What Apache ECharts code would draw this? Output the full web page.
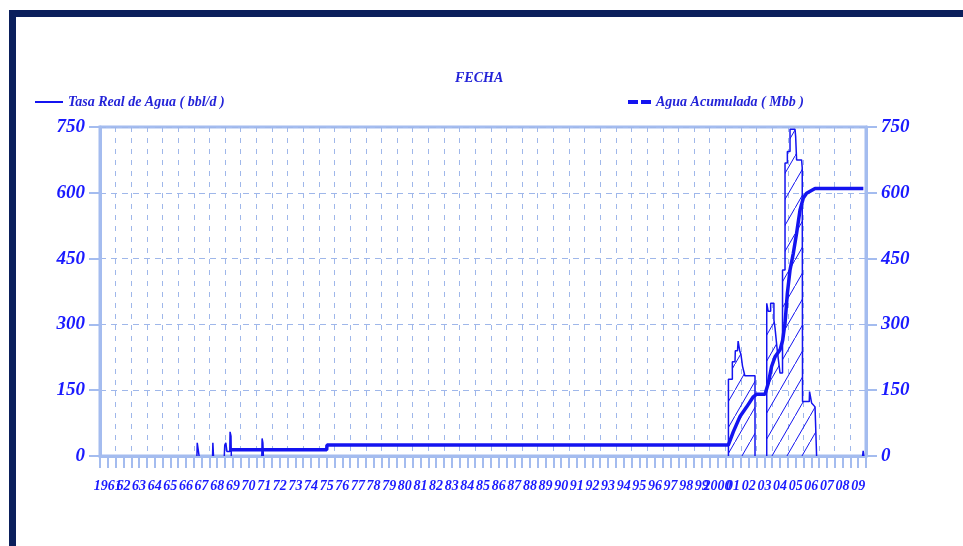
<!DOCTYPE html>
<html>
<head>
<meta charset="utf-8">
<script src="https://cdn.jsdelivr.net/npm/echarts@6/dist/echarts.min.js"></script>
<style>
  html, body { margin: 0; padding: 0; background: #ffffff; }
  #chart { width: 963px; height: 546px; }
</style>
</head>
<body>
<div id="chart"></div>
<script>
// Year labels, one per yearly band (1961 .. 2009)
const xTickLabels = ['1961','62','63','64','65','66','67','68','69','70',
  '71','72','73','74','75','76','77','78','79','80',
  '81','82','83','84','85','86','87','88','89','90',
  '91','92','93','94','95','96','97','98','99','2000',
  '01','02','03','04','05','06','07','08','09'];
const yearMin = 1961;
const yearMax = 2010;
const yTicks = [0, 150, 300, 450, 600, 750];

const rateName = 'Tasa Real de Agua ( bbl/d )';
const cumName = 'Agua Acumulada ( Mbb )';

// Water rate (bbl/d): [decimal year, value]; null separates producing periods
const rateData = [
  [1967.20, 0], [1967.22, 30], [1967.32, 30], [1967.34, 0], null,
  [1968.20, 0], [1968.22, 30], [1968.26, 0], null,
  [1968.95, 0], [1968.98, 25], [1969.05, 30], [1969.12, 10], [1969.30, 10],
  [1969.32, 55], [1969.38, 45], [1969.40, 0], null,
  [1971.35, 0], [1971.37, 40], [1971.42, 30], [1971.45, 0], null,
  [2001.20, 0], [2001.20, 175], [2001.45, 175], [2001.45, 215], [2001.62, 215],
  [2001.64, 240], [2001.78, 240], [2001.82, 262], [2001.92, 240], [2002.00, 232],
  [2002.10, 205], [2002.25, 183], [2002.90, 183], [2002.90, 0], null,
  [2003.65, 0], [2003.65, 348], [2003.74, 348], [2003.74, 330], [2003.90, 330],
  [2003.90, 348], [2004.11, 348], [2004.11, 310], [2004.18, 292], [2004.32, 242],
  [2004.50, 189], [2004.66, 189], [2004.66, 424], [2004.82, 424], [2004.82, 668],
  [2004.97, 668], [2004.97, 694], [2005.14, 694], [2005.14, 745], [2005.46, 745],
  [2005.50, 728], [2005.56, 675], [2005.88, 675], [2005.92, 657], [2005.94, 657],
  [2005.94, 124], [2006.37, 124], [2006.39, 147], [2006.45, 147], [2006.52, 121],
  [2006.74, 112], [2006.84, 112], [2006.84, 0], null,
  [2009.78, 0], [2009.82, 12], [2009.86, 0]
];

// Cumulative water (Mbb): [decimal year, value]
const cumData = [
  [1969.35, 14], [1975.50, 14], [1975.52, 25], [2001.19, 25], [2001.30, 35],
  [2001.51, 55], [2001.94, 90], [2002.37, 112], [2002.79, 135], [2003.01, 141],
  [2003.54, 141], [2003.75, 166], [2003.96, 204], [2004.18, 226], [2004.50, 242],
  [2004.67, 264], [2004.82, 303], [2004.97, 371], [2005.14, 424], [2005.35, 462],
  [2005.56, 508], [2005.78, 561], [2005.99, 588], [2006.20, 599], [2006.74, 610],
  [2009.83, 610]
];

const lineBlue = '#1414f0';
const textBlue = '#1a1aff';
const axisBlue = '#a4bcef';
const gridBlue = '#9fb7ea';
const labelFont = 'Liberation Serif';

// Diagonal hatch used under the rate curve
function hatchPattern() {
  const w = 15, h = 26;
  const c = document.createElement('canvas');
  c.width = w; c.height = h;
  const ctx = c.getContext('2d');
  ctx.strokeStyle = lineBlue;
  ctx.lineWidth = 1;
  ctx.beginPath();
  ctx.moveTo(0, h);
  ctx.lineTo(w, 0);
  ctx.stroke();
  return c;
}

function xLabel(v) {
  const k = v - yearMin - 0.5;
  const r = Math.round(k);
  if (Math.abs(k - r) > 1e-6) return '';
  return xTickLabels[r] || '';
}

const yAxisCommon = {
  type: 'value',
  min: yTicks[0],
  max: yTicks[yTicks.length - 1],
  interval: yTicks[1] - yTicks[0],
  axisLine: { show: true, lineStyle: { color: axisBlue, width: 3 } },
  axisTick: { show: true, length: 11, lineStyle: { color: axisBlue, width: 2 } },
  axisLabel: {
    color: textBlue, fontFamily: labelFont, fontStyle: 'italic', fontWeight: 'bold',
    fontSize: 19, margin: 15
  }
};

const legendText = { color: '#2323d8', fontFamily: labelFont, fontStyle: 'italic', fontWeight: 'bold', fontSize: 14 };

const chart = echarts.init(document.getElementById('chart'), null, { renderer: 'canvas' });
chart.setOption({
  animation: false,
  backgroundColor: '#ffffff',
  graphic: [
    { type: 'rect', shape: { x: 9, y: 10, width: 954, height: 7 }, style: { fill: '#0b1f5c' }, z: 100 },
    { type: 'rect', shape: { x: 9, y: 10, width: 7, height: 536 }, style: { fill: '#0b1f5c' }, z: 100 }
  ],
  title: {
    text: 'FECHA',
    left: 450, top: 66,
    textStyle: legendText
  },
  legend: [
    {
      data: [{ name: rateName, icon: 'path://M0,0H28V2H0Z' }],
      left: 30, top: 90,
      itemWidth: 28, itemHeight: 2, itemGap: 3,
      textStyle: legendText
    },
    {
      data: [{ name: cumName, icon: 'path://M0,0H10V4H0Z M13,0H23V4H13Z' }],
      left: 623, top: 90,
      itemWidth: 23, itemHeight: 4, itemGap: 3,
      textStyle: legendText
    }
  ],
  grid: {
    left: 100, right: 97, top: 127, bottom: 90,
    show: true, borderColor: axisBlue, borderWidth: 3, backgroundColor: 'transparent'
  },
  xAxis: [
    {
      type: 'value', min: yearMin, max: yearMax, interval: 0.5,
      axisLine: { show: true, lineStyle: { color: axisBlue, width: 3 } },
      axisTick: { show: true, length: 12, lineStyle: { color: axisBlue, width: 2 } },
      splitLine: { show: false },
      axisLabel: {
        formatter: xLabel, color: textBlue, fontFamily: labelFont, fontStyle: 'italic',
        fontWeight: 'bold', fontSize: 14, margin: 23, showMinLabel: true, showMaxLabel: true
      }
    },
    {
      type: 'value', min: yearMin, max: yearMax, interval: 1, position: 'bottom',
      axisLine: { show: false }, axisTick: { show: false }, axisLabel: { show: false },
      splitLine: { show: true, lineStyle: { color: gridBlue, width: 1, type: [5, 6] } }
    }
  ],
  yAxis: [
    Object.assign({}, yAxisCommon, {
      position: 'left',
      splitLine: { show: true, lineStyle: { color: gridBlue, width: 1, type: [6, 5] } }
    }),
    Object.assign({}, yAxisCommon, {
      position: 'right',
      splitLine: { show: false }
    })
  ],
  series: [
    {
      name: rateName, type: 'line', xAxisIndex: 0, yAxisIndex: 0,
      data: rateData, showSymbol: false, symbol: 'none', connectNulls: false,
      lineStyle: { color: lineBlue, width: 1.5 },
      itemStyle: { color: lineBlue },
      areaStyle: { color: { image: hatchPattern(), repeat: 'repeat' }, opacity: 1 },
      z: 3
    },
    {
      name: cumName, type: 'line', xAxisIndex: 0, yAxisIndex: 1,
      data: cumData, showSymbol: false, symbol: 'none',
      lineStyle: { color: lineBlue, width: 3.5 },
      itemStyle: { color: lineBlue },
      z: 4
    }
  ]
});
</script>
</body>
</html>
